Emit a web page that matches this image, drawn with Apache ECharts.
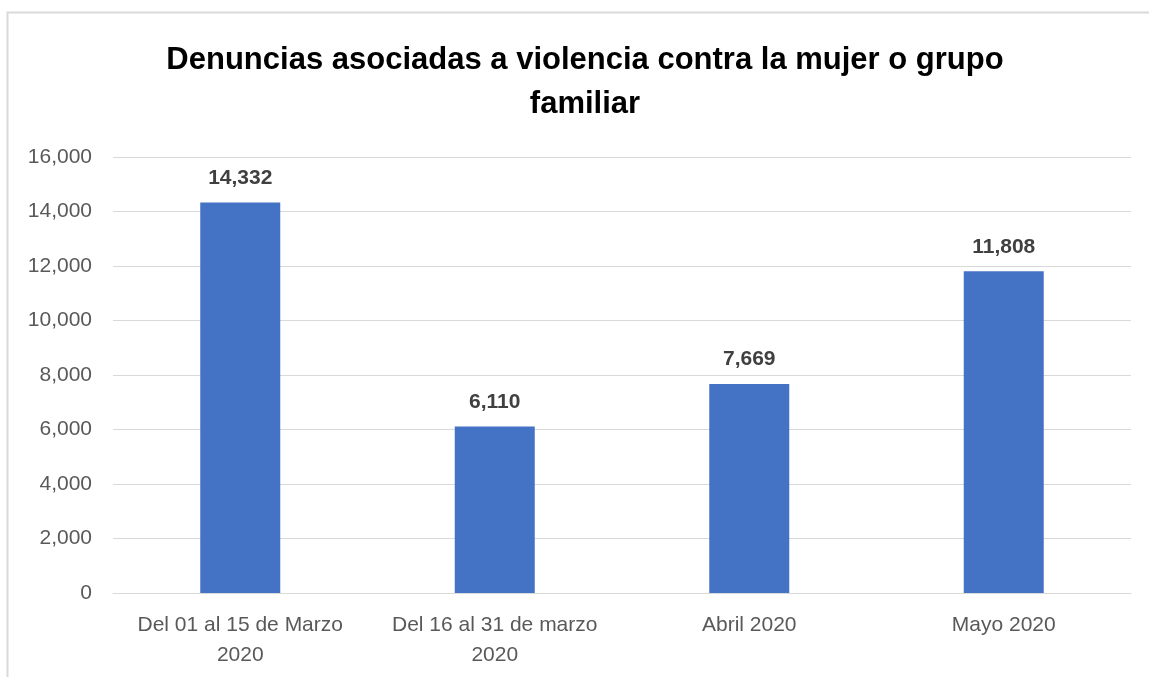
<!DOCTYPE html>
<html lang="es">
<head>
    <meta charset="UTF-8">
    <title>Denuncias</title>
    <script src="https://cdn.jsdelivr.net/npm/echarts@6.0.0/dist/echarts.min.js"></script>
    <style>
        html, body { margin: 0; padding: 0; background: #fff; }
        #chart { width: 1149px; height: 677px; }
    </style>
</head>
<body>
    <div id="chart"></div>
    <script>
        var categories = ['Del 01 al 15 de Marzo 2020', 'Del 16 al 31 de marzo 2020', 'Abril 2020', 'Mayo 2020'];
        var denuncias = [14332, 6110, 7669, 11808];
        var yTicks = [0, 2000, 4000, 6000, 8000, 10000, 12000, 14000, 16000];

        var fmt = function (v) { return Number(v).toLocaleString('en-US'); };
        var font = '"Liberation Sans", Arial, sans-serif';

        var myChart = echarts.init(document.getElementById('chart'));
        var option = {
            animation: false,
            title: {
                text: 'Denuncias asociadas a violencia contra la mujer o grupo\nfamiliar',
                left: 580,
                textAlign: 'center',
                top: 33,
                textStyle: { fontFamily: font, fontWeight: 'bold', fontSize: 31, color: '#000', lineHeight: 44 }
            },
            graphic: [{
                type: 'rect',
                shape: { x: 7.5, y: 12.5, width: 1200, height: 720 },
                style: { fill: 'none', stroke: '#d9d9d9', lineWidth: 2 },
                silent: true
            }],
            grid: { left: 113, right: 18, top: 157, bottom: 84 },
            xAxis: {
                type: 'category',
                data: categories,
                axisLine: { lineStyle: { color: '#d9d9d9', width: 1 } },
                axisTick: { show: false },
                axisLabel: {
                    interval: 0,
                    fontFamily: font, fontSize: 21, color: '#595959', lineHeight: 30, margin: 17,
                    formatter: function (v) { return v.length > 12 ? v.replace(/ (\d{4})$/, '\n$1') : v; }
                }
            },
            yAxis: {
                type: 'value',
                min: yTicks[0],
                max: yTicks[yTicks.length - 1],
                interval: 2000,
                axisLine: { show: false },
                axisTick: { show: false },
                splitLine: { lineStyle: { color: '#d9d9d9', width: 1 } },
                axisLabel: { fontFamily: font, fontSize: 21, color: '#595959', margin: 21, formatter: fmt }
            },
            series: [{
                type: 'bar',
                data: denuncias,
                barWidth: 80,
                itemStyle: { color: '#4472c4' },
                label: {
                    show: true, position: 'top', distance: 14,
                    fontFamily: font, fontWeight: 'bold', fontSize: 21, color: '#404040',
                    formatter: function (p) { return fmt(p.value); }
                }
            }]
        };
        myChart.setOption(option);
    </script>
</body>
</html>
